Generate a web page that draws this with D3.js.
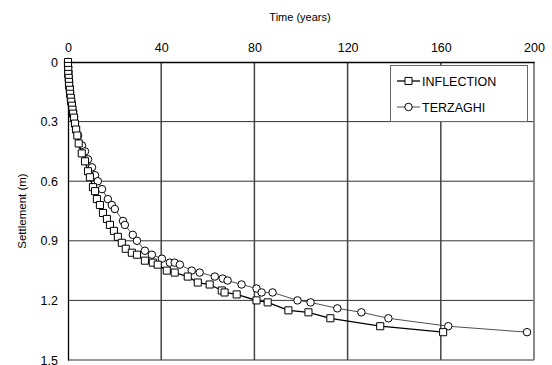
<!DOCTYPE html>
<html>
<head>
<meta charset="utf-8">
<script src="https://cdn.jsdelivr.net/npm/d3@7"></script>
<style>
  body { margin: 0; background: #fff; }
  text { font-family: "Liberation Sans", Arial, sans-serif; fill: #000; }
</style>
</head>
<body>
<div id="chart"></div>
<script>
// time (years) and settlement (m)
const inflectionT = [0, 0, 0.1, 0.1, 0.3, 0.4, 0.5, 0.8, 0.9, 1.2, 1.4, 1.7, 1.9, 2.2, 2.6, 3.0, 3.5, 4.0, 4.6, 5.9,
  7.3, 8.6, 9.4, 10.7, 11.6, 12.4, 13.7, 15.0, 16.7, 18.0, 19.7, 21.4, 23.1, 24.8, 27.4, 29.6, 33.0, 36.4, 38.5,
  42.4, 45.8, 51.4, 55.7, 60.8, 66.0, 67.2, 72.4, 80.9, 85.7, 94.6, 103.2, 112.6, 134.0, 161.0]
const inflectionS = [0, 0.02, 0.04, 0.06, 0.08, 0.10, 0.12, 0.14, 0.16, 0.18, 0.20, 0.22, 0.24, 0.26, 0.28, 0.31, 0.34, 0.37, 0.41, 0.46,
  0.50, 0.55, 0.58, 0.63, 0.65, 0.69, 0.72, 0.76, 0.79, 0.82, 0.85, 0.88, 0.91, 0.94, 0.96, 0.97, 1.00, 1.01, 1.02,
  1.05, 1.06, 1.08, 1.11, 1.12, 1.15, 1.16, 1.17, 1.20, 1.21, 1.25, 1.26, 1.29, 1.33, 1.36]

const terzaghiT = [0, 0.1, 0.2, 0.3, 0.5, 0.7, 0.9, 1.2, 1.5, 1.8, 2.2, 2.6, 3.0, 3.4, 4.3, 6.0, 7.3, 8.6, 10.3, 11.6,
  12.8, 14.6, 17.1, 18.8, 20.1, 23.6, 24.4, 27.8, 29.6, 33.0, 36.0, 40.3, 43.7, 45.8, 48.0, 53.1, 56.5, 63.0, 66.4,
  68.5, 74.5, 80.9, 83.1, 87.8, 98.5, 104.1, 115.6, 125.9, 137.5, 163.2, 197.0]
const terzaghiS = [0, 0.025, 0.05, 0.075, 0.10, 0.125, 0.15, 0.175, 0.20, 0.225, 0.25, 0.275, 0.31, 0.34, 0.37, 0.42, 0.45, 0.49, 0.53, 0.57,
  0.60, 0.64, 0.69, 0.72, 0.74, 0.80, 0.82, 0.87, 0.90, 0.95, 0.97, 0.99, 1.01, 1.01, 1.02, 1.05, 1.06, 1.08, 1.09,
  1.10, 1.12, 1.14, 1.16, 1.16, 1.20, 1.21, 1.24, 1.26, 1.29, 1.33, 1.36]

const xTicks = [0, 40, 80, 120, 160, 200]
const yTicks = [0, 0.3, 0.6, 0.9, 1.2, 1.5]

const width = 552, height = 365
const m = { top: 62, left: 68, right: 18, bottom: 5 }

const svg = d3.select('#chart').append('svg')
  .attr('width', width)
  .attr('height', height)

const x = d3.scaleLinear().domain([0, 200]).range([m.left, width - m.right])
const y = d3.scaleLinear().domain([0, 1.5]).range([m.top, height - m.bottom])

// grid
svg.append('g').selectAll('line').data(yTicks.slice(1)).enter().append('line')
  .attr('x1', x(0)).attr('x2', x(200))
  .attr('y1', d => y(d)).attr('y2', d => y(d))
  .attr('stroke', '#333').attr('stroke-width', 1)
svg.append('g').selectAll('line').data(xTicks.slice(1)).enter().append('line')
  .attr('y1', y(0)).attr('y2', y(1.5))
  .attr('x1', d => x(d)).attr('x2', d => x(d))
  .attr('stroke', d => d === 200 ? '#888' : '#444')
  .attr('stroke-width', d => d === 200 ? 2 : 1.5)

// axes
const xAxis = svg.append('g')
  .attr('transform', `translate(0,${y(0)})`)
  .call(d3.axisTop(x).tickValues(xTicks).tickSize(0).tickPadding(10).tickFormat(d3.format('d')))
xAxis.select('.domain').attr('stroke', '#000').attr('stroke-width', 1.3)
xAxis.selectAll('text').style('font-size', '12.5px')

const yAxis = svg.append('g')
  .attr('transform', `translate(${x(0)},0)`)
  .call(d3.axisLeft(y).tickValues(yTicks).tickSize(0).tickPadding(10).tickFormat(d => d === 0 ? '0' : d3.format('.1f')(d)))
yAxis.select('.domain').attr('stroke', '#000').attr('stroke-width', 1.3)
yAxis.selectAll('text').style('font-size', '12.5px')

svg.append('text')
  .attr('x', 300).attr('y', 21)
  .attr('text-anchor', 'middle')
  .style('font-size', '11px')
  .text('Time (years)')

svg.append('text')
  .attr('transform', `translate(26,${y(0.75)}) rotate(-90)`)
  .attr('text-anchor', 'middle')
  .style('font-size', '11.5px')
  .text('Settlement  (m)')

const series = [
  { name: 'INFLECTION', t: inflectionT, s: inflectionS, sym: d3.symbolSquare, size: 50, lw: 1.3, lc: '#000' },
  { name: 'TERZAGHI', t: terzaghiT, s: terzaghiS, sym: d3.symbolCircle, size: 44, lw: 0.8, lc: '#222' }
]

const line = d3.line().x(d => x(d[0])).y(d => y(d[1]))

// draw terzaghi first so inflection squares sit on top like the original
series.slice().reverse().forEach(sr => {
  const pts = sr.t.map((t, i) => [t, sr.s[i]])
  svg.append('path').datum(pts)
    .attr('d', line)
    .attr('fill', 'none')
    .attr('stroke', sr.lc)
    .attr('stroke-width', sr.lw)
  svg.append('g').selectAll('path').data(pts).enter().append('path')
    .attr('transform', d => `translate(${x(d[0])},${y(d[1])})`)
    .attr('d', d3.symbol().type(sr.sym).size(sr.size))
    .attr('fill', '#fff')
    .attr('stroke', '#000')
    .attr('stroke-width', 1)
})

// legend
const lg = svg.append('g').attr('transform', 'translate(390,65)')
lg.append('rect')
  .attr('x', 0.5).attr('y', 0.5).attr('width', 137).attr('height', 56)
  .attr('fill', '#fff').attr('stroke', '#666').attr('stroke-width', 1)
series.forEach((sr, i) => {
  const gy = 16 + i * 26
  lg.append('line')
    .attr('x1', 7).attr('x2', 30).attr('y1', gy).attr('y2', gy)
    .attr('stroke', sr.lc).attr('stroke-width', sr.lw)
  lg.append('path')
    .attr('transform', `translate(18.5,${gy})`)
    .attr('d', d3.symbol().type(sr.sym).size(sr.size))
    .attr('fill', '#fff').attr('stroke', '#000')
  lg.append('text')
    .attr('x', 32).attr('y', gy + 4.5)
    .style('font-size', '12.5px')
    .text(sr.name)
})
</script>
</body>
</html>
